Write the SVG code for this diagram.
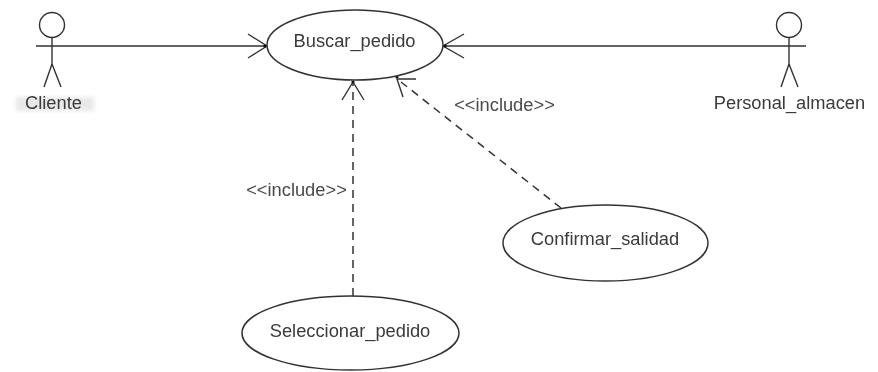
<svg xmlns="http://www.w3.org/2000/svg" width="878" height="372" viewBox="0 0 878 372">
<defs>
<style>
.s{fill:none;stroke:#333;stroke-width:1.4}
.u{fill:#fff;stroke:#333;stroke-width:1.5}
.d{fill:none;stroke:#333;stroke-width:1.5;stroke-dasharray:8 6}
.t{font-family:"Liberation Sans",Arial,sans-serif;font-size:18.300px;fill:#3a3a3a;text-anchor:middle}
.k{font-family:"Liberation Sans",Arial,sans-serif;font-size:18.300px;fill:#4a4a4a;text-anchor:middle}
.o{fill:#111}
</style>
<filter id="b" x="-10%" y="-10%" width="120%" height="120%"><feGaussianBlur stdDeviation="0.55"/></filter>
<filter id="h" x="-20%" y="-50%" width="140%" height="200%"><feGaussianBlur stdDeviation="2"/></filter>
</defs>
<rect width="878" height="372" fill="#fff"/>
<g filter="url(#b)">
<g id="connectors">
<path class="s" d="M36 46H267M248 34L267 46L248 58"/>
<path class="s" d="M806 46H443M464 34L443 46L464 58"/>
<path class="d" d="M353 296V84"/>
<path class="s" d="M342 100L353 82L364 100"/>
<circle class="o" cx="353" cy="82" r="1.6"/>
<circle class="o" cx="265" cy="46" r="1.6"/>
<circle class="o" cx="445" cy="46" r="1.6"/>
<circle class="o" cx="397" cy="77" r="1.6"/>
<path class="d" d="M561 208L401 82"/>
<path class="s" d="M416 79H397L403 97"/>
<text class="k" x="504.500" y="110.500">&lt;&lt;include&gt;&gt;</text>
<text class="k" x="296.500" y="196">&lt;&lt;include&gt;&gt;</text>
</g>
<g id="actor-cliente">
<rect x="16" y="97" width="78" height="14" fill="#e8e8e8" filter="url(#h)"/>
<circle class="s" cx="52" cy="25" r="12.5"/>
<path class="s" d="M52 37V64M52 64L44 87M52 64L61 87"/>
<text class="t" x="53.500" y="108.500">Cliente</text>
</g>
<g id="actor-personal">
<circle class="s" cx="789" cy="25" r="12.5"/>
<path class="s" d="M789 37V64M789 64L781 87M789 64L798 87"/>
<text class="t" x="789.500" y="108.500">Personal_almacen</text>
</g>
<g id="uc-buscar">
<ellipse class="u" cx="355" cy="45" rx="88" ry="35"/>
<text class="t" x="354.500" y="46.500">Buscar_pedido</text>
</g>
<g id="uc-confirmar">
<ellipse class="u" cx="605.500" cy="243" rx="102.500" ry="38"/>
<text class="t" x="605" y="245">Confirmar_salidad</text>
</g>
<g id="uc-seleccionar">
<ellipse class="u" cx="350.500" cy="333" rx="108.500" ry="37"/>
<text class="t" x="350" y="337">Seleccionar_pedido</text>
</g>
</g>
</svg>
